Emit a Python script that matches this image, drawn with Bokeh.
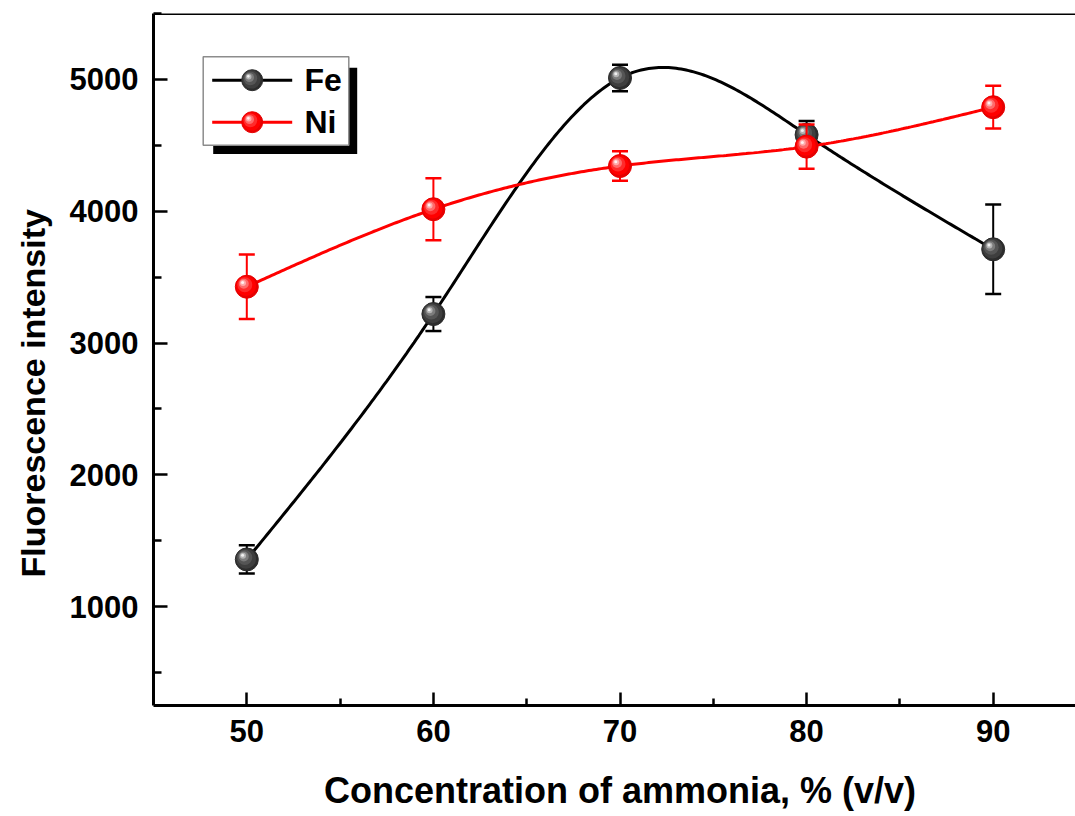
import numpy as np
from bokeh.plotting import figure
from bokeh.models import Range1d, FixedTicker, Span, Title
from bokeh.embed import file_html
from bokeh.resources import INLINE
from bokeh.core.properties import value

# ---------------- data ----------------
conc = [50, 60, 70, 80, 90]
fe = [1358, 3220, 5011, 4580, 3711]
fe_err = [107, 129, 100, 105, 339]
ni = [3427, 4015, 4343, 4490, 4789]
ni_err = [245, 236, 112, 167, 162]
x_ticks = [50, 60, 70, 80, 90]
y_ticks = [1000, 2000, 3000, 4000, 5000]
series_names = ["Fe", "Ni"]
x_title = "Concentration of ammonia, % (v/v)"
y_title = "Fluorescence intensity"

# ---------------- layout ----------------
X0, X1 = 45, 95
Y0, Y1 = 250, 5500
FRAME_W, FRAME_H = 933, 692
FONT = "Liberation Sans"

p = figure(frame_width=FRAME_W, frame_height=FRAME_H,
           x_range=Range1d(X0, X1), y_range=Range1d(Y0, Y1),
           output_backend="svg", toolbar_location=None,
           min_border_left=153, min_border_right=0,
           min_border_top=13, min_border_bottom=100)
p.extra_x_ranges = {"px": Range1d(0, FRAME_W)}
p.extra_y_ranges = {"px": Range1d(FRAME_H, 0)}
p.outline_line_color = None
p.xgrid.visible = False
p.ygrid.visible = False
p.background_fill_color = "white"
p.border_fill_color = "white"

UX = (X1 - X0) / FRAME_W   # data units per px (right)
UY = (Y1 - Y0) / FRAME_H   # data units per px (up)

# axes
minor_x = [t + 5 for t in x_ticks[:-1]]
minor_y = [t - 500 for t in y_ticks] + [y_ticks[-1] + 500]
p.xaxis.ticker = FixedTicker(ticks=x_ticks, minor_ticks=minor_x)
p.yaxis.ticker = FixedTicker(ticks=y_ticks, minor_ticks=minor_y)
for ax, tin, min_in in ((p.xaxis, 13, 7), (p.yaxis, 14, 8)):
    ax.axis_line_width = 3
    ax.axis_line_color = "black"
    ax.major_tick_in = tin
    ax.major_tick_out = 0
    ax.minor_tick_in = min_in
    ax.minor_tick_out = 0
    ax.major_tick_line_width = 2.5
    ax.minor_tick_line_width = 2.5
    ax.major_label_text_font = FONT
    ax.major_label_text_font_style = "bold"
    ax.major_label_text_font_size = "31px"
    ax.major_label_text_color = "black"
    ax.axis_label_text_font = FONT
    ax.axis_label_text_font_style = "bold"
    ax.axis_label_text_color = "black"
p.xaxis.axis_label = x_title
p.xaxis.axis_label_text_font_size = "36px"
p.xaxis.major_label_standoff = 14
p.yaxis.major_label_standoff = 15
p.xaxis.axis_label_standoff = 25

# y-axis title (offset along the axis like the reference)
p.add_layout(Title(text=y_title, align="left", offset=128, vertical_align="top",
                   text_font=FONT, text_font_style="bold", text_font_size="34px",
                   text_color="black", standoff=26), "left")

p.add_layout(Span(location=Y1, dimension="width", line_color="black", line_width=3))


def natural_spline(xs, ys, num=300):
    xs = np.asarray(xs, float)
    ys = np.asarray(ys, float)
    n = len(xs)
    h = np.diff(xs)
    A = np.zeros((n, n))
    r = np.zeros(n)
    A[0, 0] = 1
    A[-1, -1] = 1
    for i in range(1, n - 1):
        A[i, i - 1] = h[i - 1]
        A[i, i] = 2 * (h[i - 1] + h[i])
        A[i, i + 1] = h[i]
        r[i] = 3 * ((ys[i + 1] - ys[i]) / h[i] - (ys[i] - ys[i - 1]) / h[i - 1])
    c = np.linalg.solve(A, r)
    b = (ys[1:] - ys[:-1]) / h - h * (2 * c[:-1] + c[1:]) / 3
    d = (c[1:] - c[:-1]) / (3 * h)
    xx = np.linspace(xs[0], xs[-1], num)
    idx = np.clip(np.searchsorted(xs, xx) - 1, 0, n - 2)
    dx = xx - xs[idx]
    yy = ys[idx] + b[idx] * dx + c[idx] * dx ** 2 + d[idx] * dx ** 3
    return xx, yy


styles = {
    "Fe": dict(line="black", base="#2c2c2c",
               layers=["#3e3e3e", "#555555", "#7c7c7c", "#b4b4b4", "#f0f0f0"]),
    "Ni": dict(line="#ff0000", base="#e60000",
               layers=["#ff0000", "#ff2a2a", "#ff6a6a", "#ffaaaa", "#fff0f0"]),
}
# (size, dx, dy) in screen px for a 23px ball; dy negative = up
LAYERS = [(20, -0.8, -0.8), (15, -2.0, -2.0), (10, -3.0, -3.0), (6, -3.8, -3.8), (3, -4.2, -4.2)]


def ball(xs, ys, st, size, ux, uy_down, **kw):
    xs = np.asarray(xs, float)
    ys = np.asarray(ys, float)
    p.scatter(xs, ys, size=size, fill_color=st["base"], line_color=st["base"], line_width=1, **kw)
    scale = size / 23.0
    for (s, ox, oy), col in zip(LAYERS, st["layers"]):
        p.scatter(xs + ox * scale * ux, ys + oy * scale * uy_down, size=s * scale,
                  fill_color=col, line_color=None, **kw)


for name, vals, errs in (("Fe", fe, fe_err), ("Ni", ni, ni_err)):
    st = styles[name]
    sx, sy = natural_spline(conc, vals)
    p.line(sx, sy, line_color=st["line"], line_width=3)
    up = [v + e for v, e in zip(vals, errs)]
    lo = [v - e for v, e in zip(vals, errs)]
    p.segment(x0=conc, y0=lo, x1=conc, y1=up, line_color=st["line"], line_width=2)
    p.scatter(conc, up, marker="dash", size=16, line_color=st["line"], line_width=2.5)
    p.scatter(conc, lo, marker="dash", size=16, line_color=st["line"], line_width=2.5)
    ball(conc, vals, st, 23, UX, -UY)

# ---------------- legend (pixel space, relative to frame top-left) ----------------
px = dict(x_range_name="px", y_range_name="px")
p.quad(left=[59.7], right=[203.7], top=[54.3], bottom=[140.5], fill_color="black",
       line_color=None, **px)
p.quad(left=[49.7], right=[195.3], top=[43.2], bottom=[131.7], fill_color="white",
       line_color="#8c8c8c", line_width=1.5, **px)
leg_y = [66.7, 108.7]
for name, ly in zip(series_names, leg_y):
    st = styles[name]
    p.line([58.7, 138.7], [ly, ly], line_color=st["line"], line_width=3, **px)
    ball([98.7], [ly], st, 21, 1.0, 1.0, **px)
p.text(x=[151, 151], y=leg_y, text=series_names, text_font=value(FONT),
       text_font_style="bold", text_font_size="32px", text_baseline="middle",
       text_color="black", **px)

open("out.html", "w").write(file_html(p, INLINE))
